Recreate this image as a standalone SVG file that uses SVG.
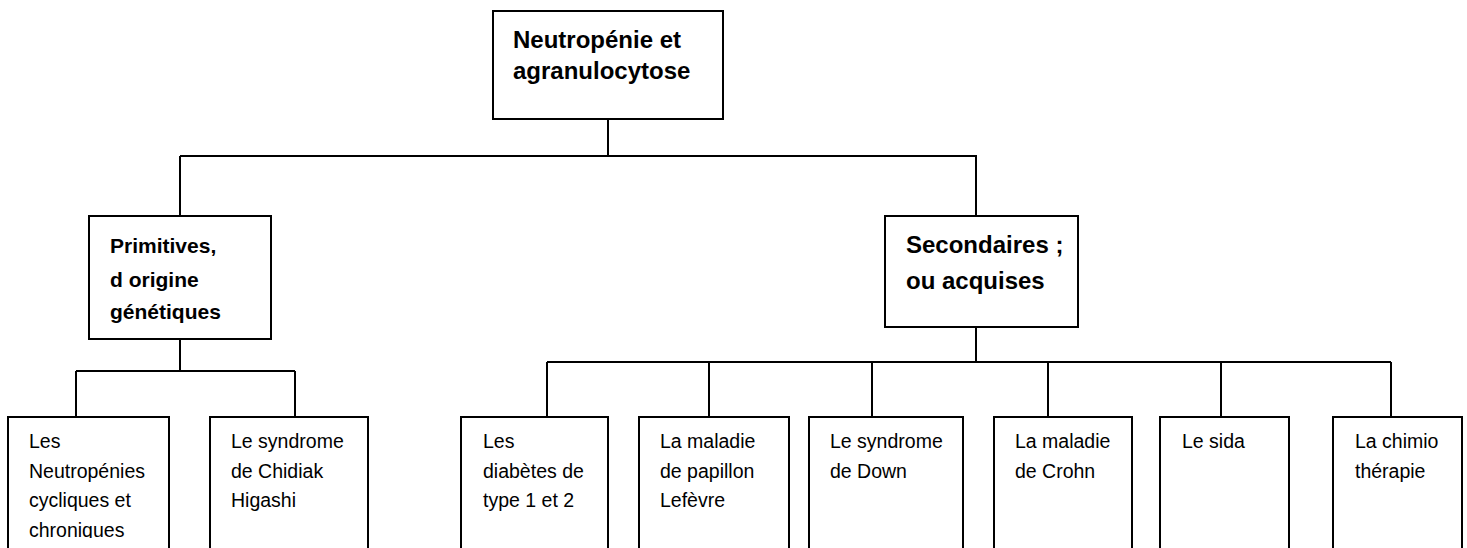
<svg xmlns="http://www.w3.org/2000/svg" width="1467" height="548" viewBox="0 0 1467 548">
<defs>
<style>
.box{fill:#fff;stroke:#000;stroke-width:2}
.ln{fill:none;stroke:#000;stroke-width:2}
.h1{font-family:"Liberation Sans",Arial,sans-serif;font-weight:bold;font-size:24px;fill:#000}
.h2{font-family:"Liberation Sans",Arial,sans-serif;font-weight:bold;font-size:21px;fill:#000}
.t{font-family:"Liberation Sans",Arial,sans-serif;font-size:19.5px;fill:#000}
</style>
<clipPath id="clipBottom"><rect x="0" y="0" width="1467" height="538"/></clipPath>
</defs>
<rect x="0" y="0" width="1467" height="548" fill="#fff"/>
<g id="connectors">
<path class="ln" d="M608 119 V156 M180 156 H977 M180 156 V216 M976 156 V216"/>
<path class="ln" d="M180 339 V371 M76 371 H295 M76 371 V417 M295 371 V417"/>
<path class="ln" d="M976 327 V362 M547 362 H1391 M547 362 V417 M709 362 V417 M872 362 V417 M1048 362 V417 M1221 362 V417 M1391 362 V417"/>
</g>
<g id="node-root">
<rect class="box" x="493" y="11" width="230" height="108"/>
<text class="h1" x="513" y="48">Neutropénie et</text>
<text class="h1" x="513" y="79">agranulocytose</text>
</g>
<g id="node-primitives">
<rect class="box" x="89" y="216" width="182" height="123"/>
<text class="h2" x="110" y="253">Primitives,</text>
<text class="h2" x="110" y="287">d origine</text>
<text class="h2" x="110" y="319">génétiques</text>
</g>
<g id="node-secondaires">
<rect class="box" x="885" y="216" width="193" height="111"/>
<text class="h1" x="906" y="253">Secondaires ;</text>
<text class="h1" x="906" y="289">ou acquises</text>
</g>
<g id="node-neutropenies">
<rect class="box" x="8" y="417" width="161" height="140"/>
<g clip-path="url(#clipBottom)">
<text class="t" x="29" y="448">Les</text>
<text class="t" x="29" y="478">Neutropénies</text>
<text class="t" x="29" y="507">cycliques et</text>
<text class="t" x="29" y="537">chroniques</text>
</g>
</g>
<g id="node-chidiak">
<rect class="box" x="210" y="417" width="158" height="140"/>
<text class="t" x="231" y="448">Le syndrome</text>
<text class="t" x="231" y="478">de Chidiak</text>
<text class="t" x="231" y="507">Higashi</text>
</g>
<g id="node-diabetes">
<rect class="box" x="461" y="417" width="147" height="140"/>
<text class="t" x="483" y="448">Les</text>
<text class="t" x="483" y="478">diabètes de</text>
<text class="t" x="483" y="507">type 1 et 2</text>
</g>
<g id="node-papillon">
<rect class="box" x="639" y="417" width="150" height="140"/>
<text class="t" x="660" y="448">La maladie</text>
<text class="t" x="660" y="478">de papillon</text>
<text class="t" x="660" y="507">Lefèvre</text>
</g>
<g id="node-down">
<rect class="box" x="809" y="417" width="154" height="140"/>
<text class="t" x="830" y="448">Le syndrome</text>
<text class="t" x="830" y="478">de Down</text>
</g>
<g id="node-crohn">
<rect class="box" x="994" y="417" width="138" height="140"/>
<text class="t" x="1015" y="448">La maladie</text>
<text class="t" x="1015" y="478">de Crohn</text>
</g>
<g id="node-sida">
<rect class="box" x="1160" y="417" width="129" height="140"/>
<text class="t" x="1182" y="448">Le sida</text>
</g>
<g id="node-chimio">
<rect class="box" x="1333" y="417" width="129" height="140"/>
<text class="t" x="1355" y="448">La chimio</text>
<text class="t" x="1355" y="478">thérapie</text>
</g>
</svg>
